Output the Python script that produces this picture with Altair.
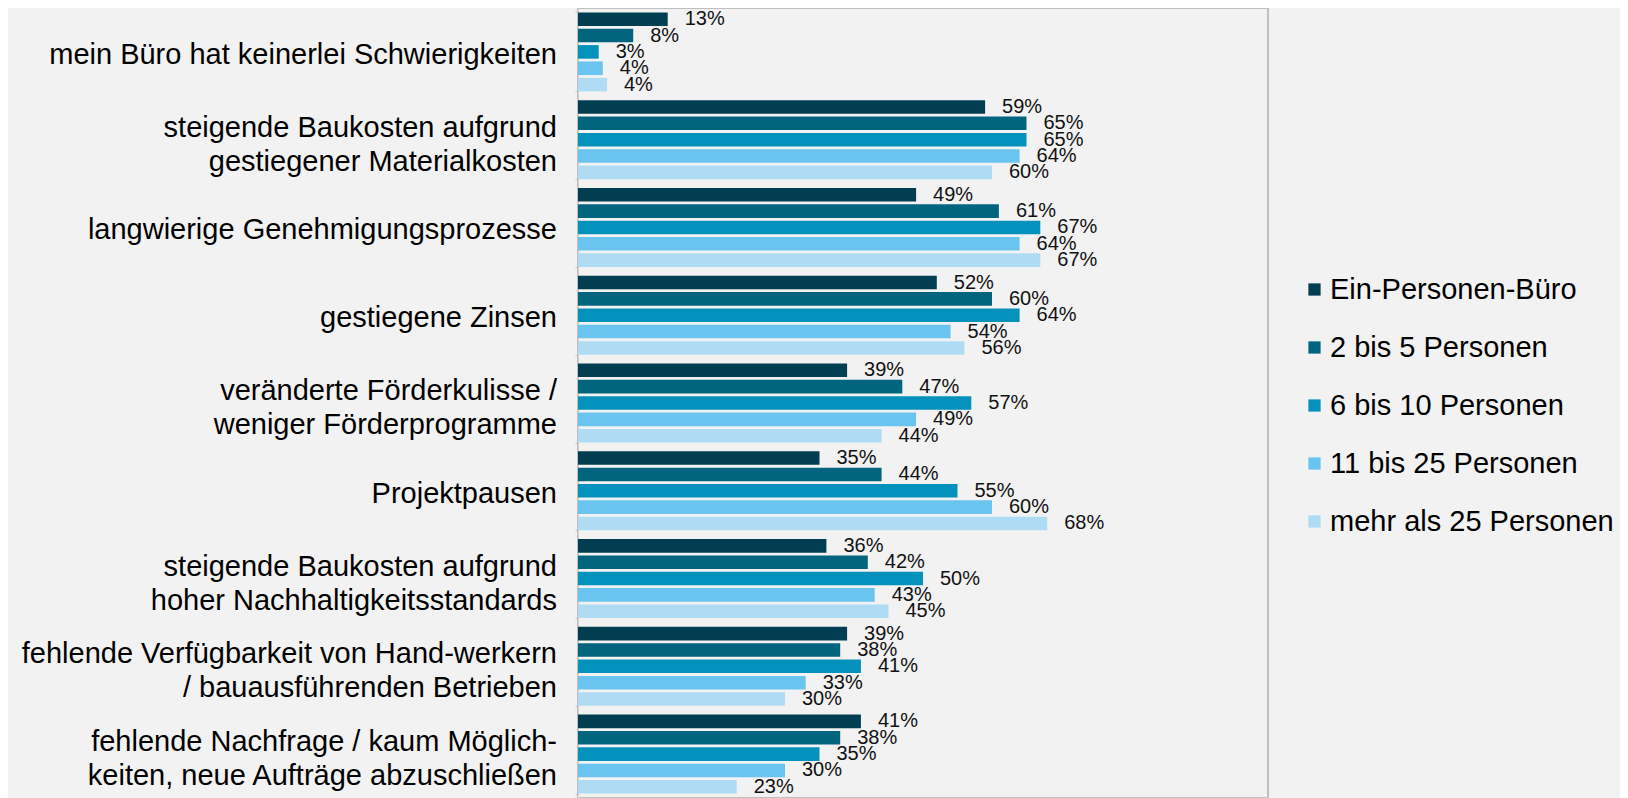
import altair as alt
import pandas as pd

NB = "\u00a0"
categories = [
    "mein Büro hat keinerlei Schwierigkeiten" + NB,
    "steigende Baukosten aufgrund|gestiegener Materialkosten",
    "langwierige Genehmigungsprozesse" + NB,
    "gestiegene Zinsen" + NB,
    "veränderte Förderkulisse /|weniger Förderprogramme",
    "Projektpausen" + NB,
    "steigende Baukosten aufgrund|hoher Nachhaltigkeitsstandards",
    "fehlende Verfügbarkeit von Hand-werkern|/ bauausführenden Betrieben",
    "fehlende Nachfrage / kaum Möglich-|keiten, neue Aufträge abzuschließen",
]

series = [
    "Ein-Personen-Büro",
    "2 bis 5 Personen",
    "6 bis 10 Personen",
    "11 bis 25 Personen",
    "mehr als 25 Personen",
]

ein_person = [13, 59, 49, 52, 39, 35, 36, 39, 41]
p2_5 = [8, 65, 61, 60, 47, 44, 42, 38, 38]
p6_10 = [3, 65, 67, 64, 57, 55, 50, 41, 35]
p11_25 = [3.6, 64, 64, 54, 49, 60, 43, 33, 30]
p25_plus = [4.2, 60, 67, 56, 44, 68, 45, 30, 23]

colors = ["#023e51", "#02657f", "#0491bb", "#69c5ef", "#aedcf5"]

rows = []
for s, vals in zip(series, [ein_person, p2_5, p6_10, p11_25, p25_plus]):
    for c, v in zip(categories, vals):
        rows.append({"cat": c, "series": s, "value": v})
df = pd.DataFrame(rows)

cat_df = pd.DataFrame(
    {"cat": categories, "nlines": [len(c.split("|")) for c in categories]}
)

FONT = "Liberation Sans"
LINE_H = 34

y_axis = alt.Axis(
    labels=False,
    tickBand="extent",
    tickSize=3,
    tickColor="#bfbfbf",
    domainColor="#d0d0d0",
    domainWidth=1,
    grid=False,
    title=None,
)
y_scale = alt.Scale(paddingInner=0.1, paddingOuter=0.05)


def ycat():
    return alt.Y("cat:N", sort=categories, title=None, scale=y_scale, axis=y_axis)


base = alt.Chart(df).transform_calculate(
    label="format(datum.value, '.0f') + '%'"
).encode(
    y=ycat(),
    yOffset=alt.YOffset(
        "series:N", sort=series, scale=alt.Scale(paddingInner=0.17, paddingOuter=0)
    ),
)

bars = base.mark_bar().encode(
    x=alt.X("value:Q", scale=alt.Scale(domain=[0, 100], nice=False), axis=None),
    color=alt.Color(
        "series:N",
        sort=series,
        scale=alt.Scale(domain=series, range=colors),
        legend=alt.Legend(
            title=None,
            orient="none",
            legendX=722,
            legendY=267,
            labelFontSize=29,
            labelFont=FONT,
            labelColor="#000000",
            symbolType="square",
            symbolSize=150,
            symbolStrokeWidth=0,
            rowPadding=28,
            labelOffset=1,
            padding=0,
            labelLimit=0,
        ),
    ),
)

text = base.mark_text(
    align="left", baseline="middle", dx=17, fontSize=20, font=FONT, color="#111111"
).encode(
    x=alt.X("value:Q", scale=alt.Scale(domain=[0, 100], nice=False), axis=None),
    text="label:N",
)

label_base = alt.Chart(cat_df)

labels_one = label_base.transform_filter("datum.nlines == 1").mark_text(
    align="right", baseline="middle", fontSize=29, font=FONT, color="#000000",
    lineBreak="|", lineHeight=LINE_H, dy=3,
).encode(
    y=ycat(),
    x=alt.value(-21),
    text="cat:N",
)

labels_two = label_base.transform_filter("datum.nlines == 2").mark_text(
    align="right", baseline="middle", fontSize=29, font=FONT, color="#000000",
    lineBreak="|", lineHeight=LINE_H, dy=-12,
).encode(
    y=ycat(),
    x=alt.value(-21),
    text="cat:N",
)

chart = (
    alt.layer(bars, text, labels_one, labels_two)
    .properties(
        width=690,
        height=790,
        autosize=alt.AutoSizeParams(type="none"),
        padding={"left": 570, "top": 0, "right": 352, "bottom": 0},
    )
    .configure(background="#f2f2f2")
    .configure_view(stroke="#bfbfbf", strokeWidth=2)
)

chart.save("out.html", embed_options={"renderer": "svg", "actions": False})
